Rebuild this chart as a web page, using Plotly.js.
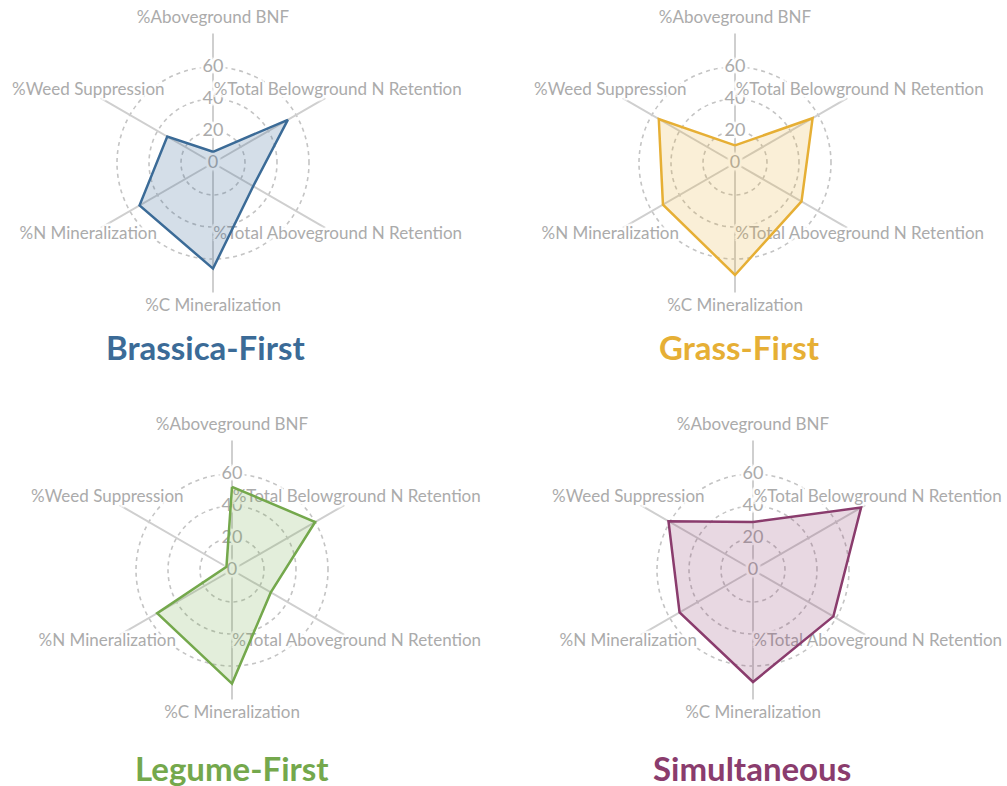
<!DOCTYPE html>
<html>
<head>
<meta charset="utf-8">
<script src="https://cdn.plot.ly/plotly-3.0.1.min.js"></script>
<style>html,body{margin:0;padding:0;background:#fff;}#chart{width:1007px;height:786px;}</style>
</head>
<body>
<div id="chart"></div>
<script>
const categories = ["%Aboveground BNF", "%Total Belowground N Retention", "%Total Aboveground N Retention", "%C Mineralization", "%N Mineralization", "%Weed Suppression"];
const tickValues = [0, 20, 40, 60];
const tickLabels = ["0", "20", "40", "60"];

const panelNames = ["Brassica-First", "Grass-First", "Legume-First", "Simultaneous"];
const brassicaFirst = [7, 54, 29, 66, 53, 33];
const grassFirst = [11, 56, 48, 70, 52, 55];
const legumeFirst = [52, 60, 28, 71, 54, 4];
const simultaneous = [30, 78, 58, 70, 53, 61];

const seriesValues = [brassicaFirst, grassFirst, legumeFirst, simultaneous];
const lineColors = ["#3b6b97", "#e6af35", "#74a84c", "#8a3c6d"];
const fillColors = ["rgba(59,107,151,0.22)", "rgba(230,175,53,0.2)", "rgba(116,168,76,0.2)", "rgba(138,60,109,0.2)"];

const W = 1007, H = 786;
const RANGE_MAX = 90;
const PX_PER_UNIT = 1.6;
const LABEL_R = 90;
const SPOKE_R = 81;
// centers of each radar in pixels
const centers = [[213, 163], [735, 163], [232, 570], [753, 570]];
const titlePos = [[205, 347], [739, 347], [232, 768], [752, 768]];

const halo = "2px 0 1px #fff, -2px 0 1px #fff, 0 2px 1px #fff, 0 -2px 1px #fff, 2px 2px 1px #fff, -2px -2px 1px #fff, 2px -2px 1px #fff, -2px 2px 1px #fff, 3px 0 2px #fff, -3px 0 2px #fff, 0 3px 2px #fff, 0 -3px 2px #fff";
const grayText = "#ababab";
const fontFam = "Lato, 'Source Sans Pro', sans-serif";

const data = [];
const layout = {
  width: W, height: H,
  margin: {l: 0, r: 0, t: 0, b: 0, pad: 0},
  paper_bgcolor: "#fff",
  showlegend: false,
  annotations: []
};

for (let i = 0; i < 4; i++) {
  const sub = i === 0 ? "polar" : "polar" + (i + 1);
  const rpx = RANGE_MAX * PX_PER_UNIT;
  const [cx, cy] = centers[i];
  layout[sub] = {
    domain: {
      x: [(cx - rpx) / W, (cx + rpx) / W],
      y: [(H - cy - rpx) / H, (H - cy + rpx) / H]
    },
    bgcolor: "rgba(0,0,0,0)",
    radialaxis: {
      range: [0, RANGE_MAX],
      tickvals: [20, 40, 60],
      showticklabels: false,
      ticks: "",
      showline: false,
      showgrid: true,
      gridcolor: "#c4c4c4",
      gridwidth: 1.6,
      griddash: "4px,4px"
    },
    angularaxis: {
      type: "category",
      categoryarray: categories,
      direction: "clockwise",
      rotation: 90,
      showticklabels: false,
      ticks: "",
      showline: false,
      showgrid: false
    }
  };

  // spokes
  const sr = [], st = [];
  categories.forEach(c => { sr.push(0, SPOKE_R, null); st.push(c, c, c); });
  data.push({
    type: "scatterpolar", subplot: sub, r: sr, theta: st, mode: "lines",
    line: {color: "#cfcfcf", width: 2}, connectgaps: false, hoverinfo: "skip"
  });

  // radial tick labels
  data.push({
    type: "scatterpolar", subplot: sub,
    r: tickValues, theta: tickValues.map(() => categories[0]),
    mode: "text", text: tickLabels, textposition: "middle center",
    textfont: {family: fontFam, size: 18, color: grayText, shadow: halo},
    cliponaxis: false, hoverinfo: "skip"
  });

  // category labels
  data.push({
    type: "scatterpolar", subplot: sub,
    r: categories.map(() => LABEL_R), theta: categories,
    mode: "text", text: categories, textposition: "middle center",
    textfont: {family: fontFam, size: 17, color: grayText, shadow: halo},
    cliponaxis: false, hoverinfo: "skip"
  });

  // data polygon
  const vals = seriesValues[i];
  data.push({
    type: "scatterpolar", subplot: sub,
    r: vals.concat([vals[0]]), theta: categories.concat([categories[0]]),
    mode: "lines", fill: "toself",
    fillcolor: fillColors[i],
    line: {color: lineColors[i], width: 2.5},
    name: panelNames[i]
  });

  layout.annotations.push({
    xref: "paper", yref: "paper",
    x: titlePos[i][0] / W, y: (H - titlePos[i][1]) / H,
    xanchor: "center", yanchor: "middle",
    text: "<b>" + panelNames[i] + "</b>", showarrow: false,
    font: {family: fontFam, size: 33, color: lineColors[i]}
  });
}

Plotly.newPlot("chart", data, layout, {staticPlot: true});
</script>
</body>
</html>
